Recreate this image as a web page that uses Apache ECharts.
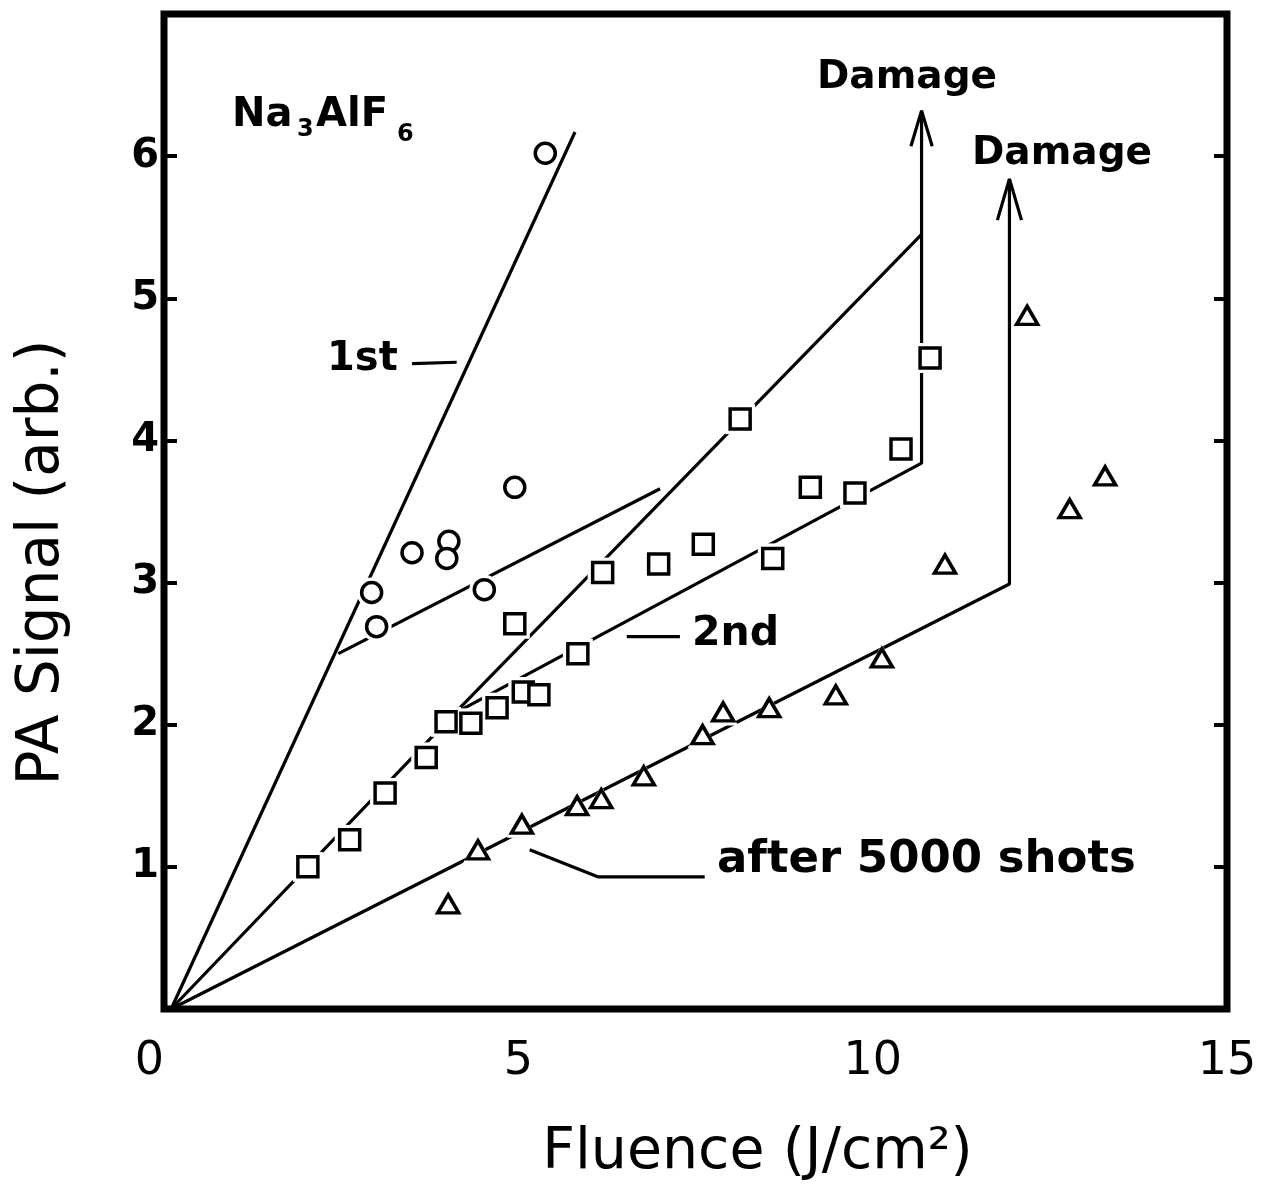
<!DOCTYPE html>
<html>
<head>
<meta charset="utf-8">
<title>Na3AlF6 PA signal vs fluence</title>
<script src="https://cdn.jsdelivr.net/npm/echarts@6/dist/echarts.min.js"></script>
<style>
  html, body { margin: 0; padding: 0; background: #fff; }
  #chart { width: 1265px; height: 1185px; }
</style>
</head>
<body>
<div id="chart"></div>
<script>
// Axis ticks
const xTicks = [0, 5, 10, 15];
const yTicks = [1, 2, 3, 4, 5, 6];

// Measured points: [fluence J/cm2, PA signal]
const firstShot = [
  [5.38, 6.02], [2.93, 2.93], [3.00, 2.69], [3.50, 3.21],
  [4.02, 3.29], [3.99, 3.17], [4.52, 2.95], [4.95, 3.67]
];
const secondShot = [
  [2.03, 1.00], [2.62, 1.19], [3.12, 1.52], [3.70, 1.77], [3.98, 2.02],
  [4.33, 2.01], [4.70, 2.12], [5.07, 2.23], [5.29, 2.21], [4.95, 2.71],
  [5.84, 2.50], [6.19, 3.07], [6.98, 3.13], [7.61, 3.27], [8.13, 4.15],
  [8.59, 3.17], [9.12, 3.67], [9.75, 3.63], [10.40, 3.94], [10.81, 4.58]
];
const after5000 = [
  [4.01, 0.74], [4.43, 1.12], [5.05, 1.30], [5.83, 1.43], [6.17, 1.48],
  [6.77, 1.64], [7.60, 1.93], [7.89, 2.09], [8.54, 2.12], [9.48, 2.21],
  [10.13, 2.47], [11.02, 3.13], [12.18, 4.88], [12.78, 3.52], [13.28, 3.75]
];

// Hand-drawn guide lines
const fit1st = [[0.1, 0], [5.8, 6.17]];
const fit1stKnee = [[2.46, 2.50], [7.0, 3.66]];
const fit2nd = [[0.1, 0], [4.1, 2.08], [10.69, 3.84], [10.69, 6.32]];
const fit2ndSteep = [[4.1, 2.08], [10.69, 5.45]];
const fitAfter = [[0.1, 0], [11.93, 2.99], [11.93, 5.84]];
const arrowHead2nd = [[10.54, 6.07], [10.69, 6.32], [10.84, 6.07]];
const arrowHeadAfter = [[11.76, 5.55], [11.93, 5.84], [12.10, 5.55]];
const leader1st = [[3.50, 4.54], [4.13, 4.55]];
const leader2nd = [[6.53, 2.62], [7.28, 2.62]];
const leaderAfter = [[5.16, 1.12], [6.12, 0.93], [7.63, 0.93]];

const chart = echarts.init(document.getElementById('chart'), null, { renderer: 'canvas' });

const INK = '#000';
const FONT = 'DejaVu Sans';

function guide(data) {
  return {
    type: 'line', data: data, symbol: 'none', silent: true, z: 2,
    lineStyle: { color: INK, width: 3.2 }, animation: false
  };
}
function halo(data, symbol, size) {
  return {
    type: 'scatter', data: data, symbol: symbol, symbolSize: size, silent: true, z: 3,
    itemStyle: { color: '#fff', borderWidth: 0, opacity: 1 }, animation: false
  };
}
function marks(name, data, symbol, size) {
  return {
    name: name, type: 'scatter', data: data, symbol: symbol, symbolSize: size, z: 4,
    itemStyle: { color: '#fff', borderColor: INK, borderWidth: 3.5, opacity: 1 }, animation: false
  };
}

const option = {
  backgroundColor: '#fff',
  animation: false,
  grid: {
    left: 164, right: 38, top: 14, bottom: 176,
    show: true, borderColor: INK, borderWidth: 7,
    outerBoundsMode: 'none'
  },
  xAxis: {
    type: 'value', min: 0, max: 15, interval: 5,
    axisLine: { show: false }, axisTick: { show: false }, splitLine: { show: false },
    axisLabel: {
      color: INK, fontFamily: FONT, fontSize: 46, margin: 30,
      alignMinLabel: 'right',
      customValues: xTicks
    },
    name: 'Fluence (J/cm\u00B2)',
    nameLocation: 'middle', nameGap: 116,
    nameTextStyle: { color: INK, fontFamily: FONT, fontSize: 57, padding: [0, 0, 0, 124] }
  },
  yAxis: [
    {
      type: 'value', min: 0, max: 7, interval: 1, position: 'left',
      axisLine: { show: false }, splitLine: { show: false },
      axisTick: { show: true, inside: true, length: 13, lineStyle: { color: INK, width: 4 }, customValues: yTicks },
      axisLabel: {
        color: INK, fontFamily: FONT, fontWeight: 'bold', fontSize: 40, margin: 5,
        customValues: yTicks
      },
      name: 'PA Signal (arb.)',
      nameLocation: 'middle', nameGap: 92,
      nameTextStyle: { color: INK, fontFamily: FONT, fontSize: 58, padding: [0, 102, 0, 0] }
    },
    {
      type: 'value', min: 0, max: 7, interval: 1, position: 'right',
      axisLine: { show: false }, splitLine: { show: false },
      axisTick: { show: true, inside: true, length: 13, lineStyle: { color: INK, width: 4 }, customValues: yTicks },
      axisLabel: { show: false }
    }
  ],
  series: [
    guide(fit1st), guide(fit1stKnee), guide(fit2nd), guide(fit2ndSteep), guide(fitAfter),
    guide(arrowHead2nd), guide(arrowHeadAfter),
    guide(leader1st), guide(leader2nd), guide(leaderAfter),
    halo(firstShot, 'circle', 30), halo(secondShot, 'rect', 30), halo(after5000, 'triangle', [30, 27]),
    marks('1st', firstShot, 'circle', 20),
    marks('2nd', secondShot, 'rect', 20),
    marks('after 5000 shots', after5000, 'triangle', [21, 18])
  ],
  graphic: [
    { type: 'text', left: 817, top: 58, z: 10,
      style: { text: 'Damage', font: 'bold 39px "DejaVu Sans"', fill: INK } },
    { type: 'text', left: 972, top: 134, z: 10,
      style: { text: 'Damage', font: 'bold 39px "DejaVu Sans"', fill: INK } },
    { type: 'text', left: 232, top: 96, z: 10,
      style: { text: 'Na', font: 'bold 40px "DejaVu Sans"', fill: INK } },
    { type: 'text', left: 297, top: 118, z: 10,
      style: { text: '3', font: 'bold 24px "DejaVu Sans"', fill: INK } },
    { type: 'text', left: 316, top: 96, z: 10,
      style: { text: 'AlF', font: 'bold 40px "DejaVu Sans"', fill: INK } },
    { type: 'text', left: 397, top: 123, z: 10,
      style: { text: '6', font: 'bold 24px "DejaVu Sans"', fill: INK } },
    { type: 'text', left: 327, top: 340, z: 10,
      style: { text: '1st', font: 'bold 40px "DejaVu Sans"', fill: INK } },
    { type: 'text', left: 692, top: 614, z: 10,
      style: { text: '2nd', font: 'bold 41px "DejaVu Sans"', fill: INK } },
    { type: 'text', left: 717, top: 838, z: 10,
      style: { text: 'after 5000 shots', font: 'bold 45px "DejaVu Sans"', fill: INK } }
  ]
};

chart.setOption(option);
</script>
</body>
</html>
